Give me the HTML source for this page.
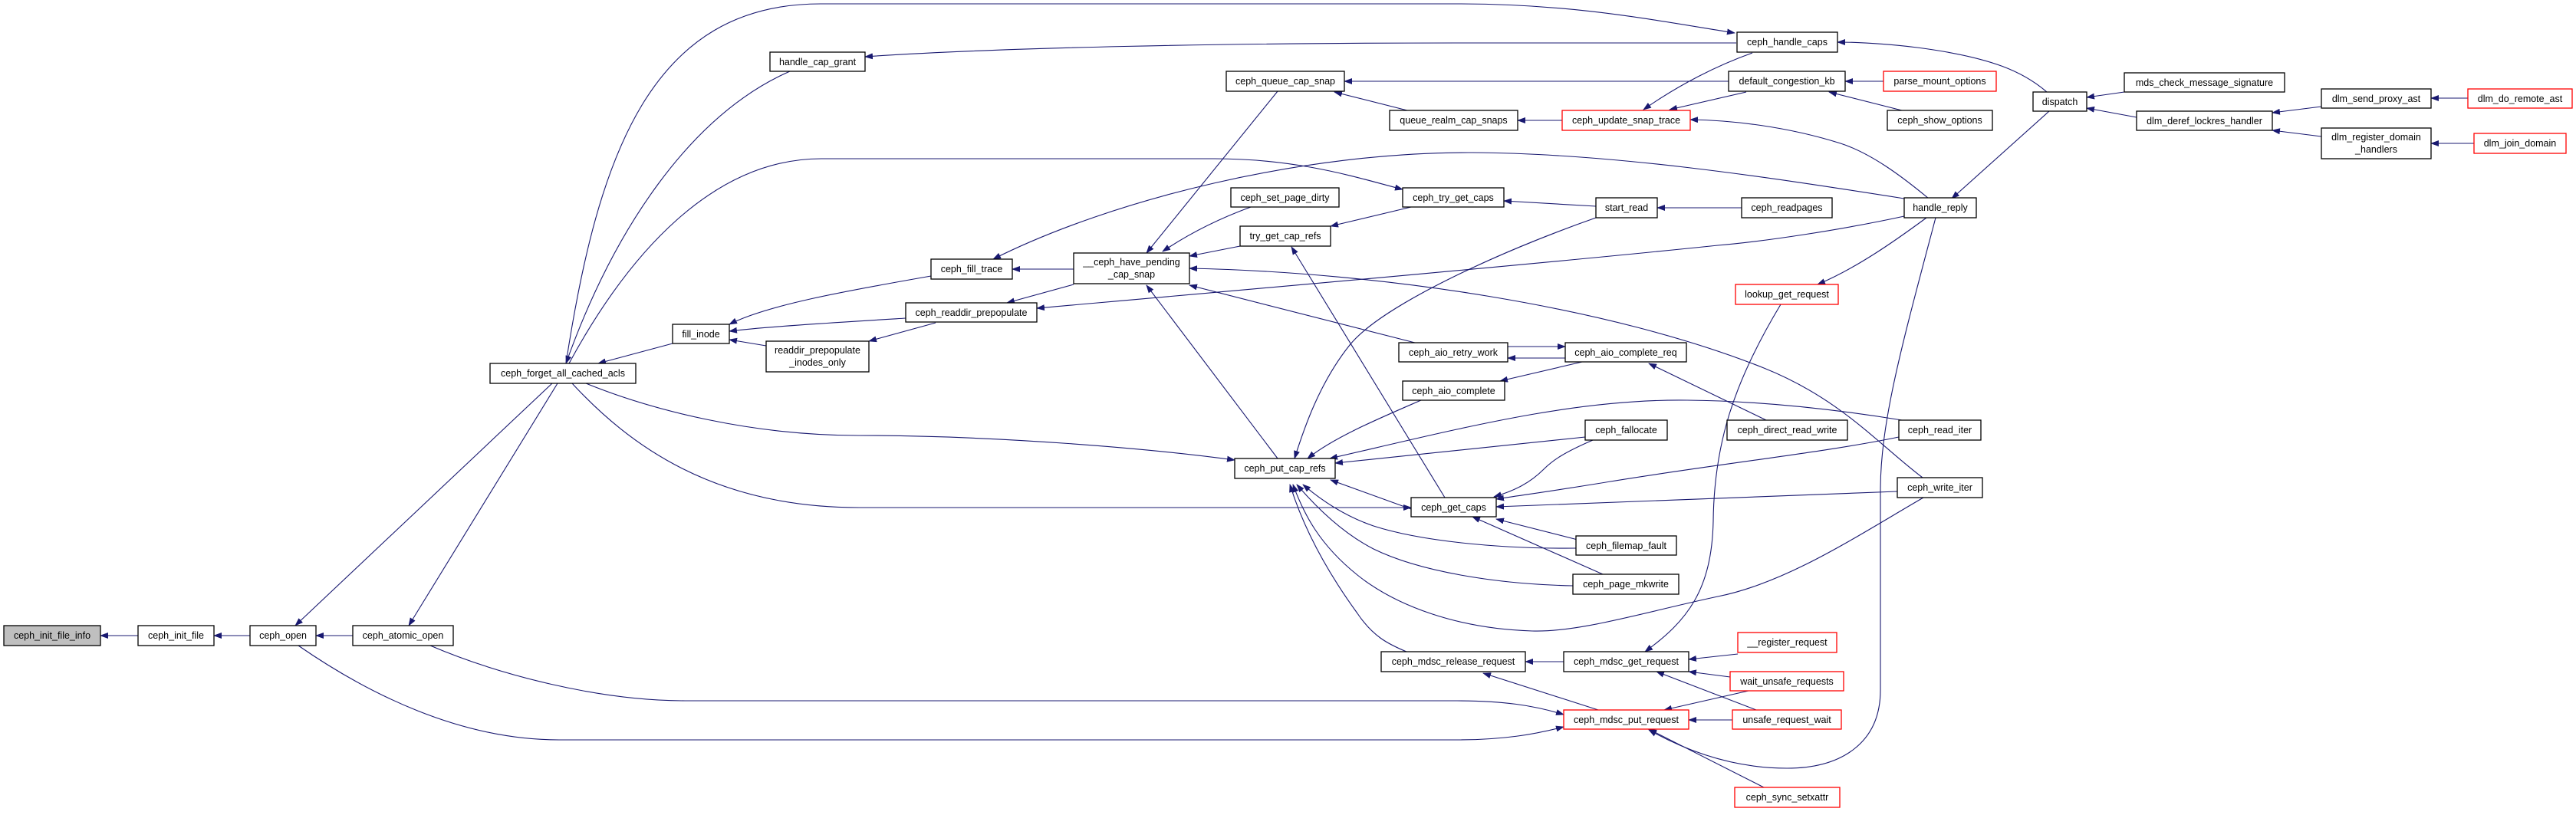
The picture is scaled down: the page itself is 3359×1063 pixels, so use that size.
<!DOCTYPE html>
<html><head><meta charset="utf-8"><style>
html,body{margin:0;padding:0;background:#fff}
svg{display:block}
text{font-family:"Liberation Sans",Arial,sans-serif;font-size:12.5px;fill:#000}
.e{fill:none;stroke:#191970;stroke-width:1.1;marker-end:url(#ah)}
.n{fill:#fff;stroke:#000;stroke-width:1.3}
.r{fill:#fff;stroke:#ff0000;stroke-width:1.3}
</style></head><body>
<svg width="3359" height="1063" viewBox="0 0 3359 1063" xmlns="http://www.w3.org/2000/svg">
<defs><marker id="ah" markerWidth="11" markerHeight="8" refX="10" refY="4" orient="auto" markerUnits="userSpaceOnUse"><path d="M0,0 L11,4 L0,8 z" fill="#191970"/></marker></defs>
<g>
<path class="e" d="M180,829 L131,829"/>
<path class="e" d="M326,829 L279,829"/>
<path class="e" d="M460,829 L412,829"/>
<path class="e" d="M720,500 L385,816"/>
<path class="e" d="M727,500 L533,816"/>
<path class="e" d="M877,448 L780,474"/>
<path class="e" d="M1030,93 C900,150 800,300 738,474"/>
<path class="e" d="M738,474 C780,200 850,5 1070,5 L1900,5 C2050,5 2150,25 2262,43"/>
<path class="e" d="M742,474 C820,330 930,207 1071,207 L1584,207 C1700,207 1780,235 1829,247"/>
<path class="e" d="M1214,360 C1100,380 1000,398 951,423"/>
<path class="e" d="M1181,415 C1100,420 1000,426 951,432"/>
<path class="e" d="M999,451 L951,443"/>
<path class="e" d="M1220,421 L1133,445"/>
<path class="e" d="M1400,351 L1320,351"/>
<path class="e" d="M1400,371 L1313,395"/>
<path class="e" d="M2483,259 C2300,230 2100,200 1920,199 C1700,198 1450,260 1295,338"/>
<path class="e" d="M2483,282 C2400,300 2300,315 2240,320 C2000,345 1600,380 1352,402"/>
<path class="e" d="M1666,119 L1495,330"/>
<path class="e" d="M1835,144 L1740,120"/>
<path class="e" d="M2037,157 L1979,157"/>
<path class="e" d="M2254,106 L1753,106"/>
<path class="e" d="M2264,56 L1900,56 C1600,56 1300,62 1128,74"/>
<path class="e" d="M2285,69 C2240,85 2190,110 2143,143"/>
<path class="e" d="M2277,120 L2177,143"/>
<path class="e" d="M2515,259 C2480,230 2440,200 2400,187 C2330,165 2260,157 2204,156"/>
<path class="e" d="M2456,106 L2406,106"/>
<path class="e" d="M2480,144 L2385,120"/>
<path class="e" d="M2669,120 C2640,95 2600,75 2500,62 C2450,56 2420,55 2396,55"/>
<path class="e" d="M2770,120 L2721,127"/>
<path class="e" d="M2786,153 L2721,141"/>
<path class="e" d="M3027,139 L2963,147"/>
<path class="e" d="M3027,178 L2963,170"/>
<path class="e" d="M3218,128 L3170,128"/>
<path class="e" d="M3226,187 L3170,187"/>
<path class="e" d="M2672,145 L2545,259"/>
<path class="e" d="M2271,271 L2161,271"/>
<path class="e" d="M2081,269 L1961,262"/>
<path class="e" d="M2081,284 C1950,330 1800,400 1760,450 C1720,500 1700,560 1688,598"/>
<path class="e" d="M2512,284 C2470,315 2420,350 2370,371"/>
<path class="e" d="M2524,284 C2480,450 2452,550 2452,640 L2452,900 C2452,970 2400,1002 2330,1002 C2260,1002 2200,980 2150,952"/>
<path class="e" d="M2322,397 C2260,500 2235,580 2234,680 C2232,770 2200,810 2145,850"/>
<path class="e" d="M1617,321 L1551,334"/>
<path class="e" d="M1631,270 C1590,285 1550,305 1516,328"/>
<path class="e" d="M1840,270 L1735,295"/>
<path class="e" d="M1884,649 L1684,322"/>
<path class="e" d="M1666,598 L1495,372"/>
<path class="e" d="M1845,447 L1551,372"/>
<path class="e" d="M2507,623 C2450,580 2400,520 2300,480 C2100,400 1800,355 1551,350"/>
<path class="e" d="M1966,452 L2041,452"/>
<path class="e" d="M2041,467 L1966,467"/>
<path class="e" d="M2063,472 L1956,497"/>
<path class="e" d="M2303,548 L2150,474"/>
<path class="e" d="M1853,522 C1800,545 1740,570 1705,598"/>
<path class="e" d="M2480,548 C2400,535 2300,523 2200,522 C2050,520 1900,560 1734,598"/>
<path class="e" d="M2067,570 L1741,604"/>
<path class="e" d="M1840,664 L1735,626"/>
<path class="e" d="M746,500 C820,580 930,662 1120,662 L1840,662"/>
<path class="e" d="M764,500 C850,535 980,568 1120,568 C1300,568 1500,585 1610,600"/>
<path class="e" d="M2077,574 C2040,590 2025,600 2013,612 C1995,630 1975,640 1948,648"/>
<path class="e" d="M2476,570 C2380,590 2240,605 2100,628 C2040,638 1990,645 1951,651"/>
<path class="e" d="M2474,641 L1951,661"/>
<path class="e" d="M2065,706 L1951,677"/>
<path class="e" d="M2090,749 L1920,674"/>
<path class="e" d="M2055,715 C1950,716 1850,705 1791,686 C1750,672 1720,650 1699,632"/>
<path class="e" d="M2051,764 C1950,762 1850,745 1791,716 C1750,695 1715,660 1691,632"/>
<path class="e" d="M2508,649 C2420,700 2330,760 2240,778 C2150,797 2060,825 1998,823 C1900,820 1820,790 1770,750 C1720,710 1700,670 1686,632"/>
<path class="e" d="M1834,850 C1810,840 1790,830 1770,800 C1730,745 1700,690 1682,632"/>
<path class="e" d="M2039,863 L1989,863"/>
<path class="e" d="M2266,853 L2202,860"/>
<path class="e" d="M2256,883 L2202,876"/>
<path class="e" d="M2290,926 L2160,876"/>
<path class="e" d="M2280,901 L2170,926"/>
<path class="e" d="M2259,939 L2202,939"/>
<path class="e" d="M2300,1027 L2150,951"/>
<path class="e" d="M2084,926 L1934,878"/>
<path class="e" d="M561,842 C650,880 780,914 893,914 L1900,914 C1960,914 2000,920 2039,932"/>
<path class="e" d="M389,842 C480,905 600,965 729,965 L1900,965 C1960,965 2000,958 2039,948"/>
</g>
<g>
<rect x="5" y="816" width="126" height="26" fill="#bfbfbf" stroke="#000" stroke-width="1.3"/><text x="68" y="833" text-anchor="middle">ceph_init_file_info</text>
<rect class="n" x="180" y="816" width="99" height="26"/><text x="229.5" y="833" text-anchor="middle">ceph_init_file</text>
<rect class="n" x="326" y="816" width="86" height="26"/><text x="369" y="833" text-anchor="middle">ceph_open</text>
<rect class="n" x="460" y="816" width="131" height="26"/><text x="525.5" y="833" text-anchor="middle">ceph_atomic_open</text>
<rect class="n" x="639" y="474" width="190" height="26"/><text x="734" y="491" text-anchor="middle">ceph_forget_all_cached_acls</text>
<rect class="n" x="877" y="423" width="74" height="25"/><text x="914" y="440" text-anchor="middle">fill_inode</text>
<rect class="n" x="999" y="445" width="134" height="40"/><text x="1066" y="461" text-anchor="middle">readdir_prepopulate</text><text x="1066" y="477" text-anchor="middle">_inodes_only</text>
<rect class="n" x="1004" y="68" width="124" height="25"/><text x="1066" y="85" text-anchor="middle">handle_cap_grant</text>
<rect class="n" x="1599" y="93" width="154" height="26"/><text x="1676" y="110" text-anchor="middle">ceph_queue_cap_snap</text>
<rect class="n" x="1812" y="144" width="167" height="26"/><text x="1895.5" y="161" text-anchor="middle">queue_realm_cap_snaps</text>
<rect class="r" x="2037" y="144" width="167" height="26"/><text x="2120.5" y="161" text-anchor="middle">ceph_update_snap_trace</text>
<rect class="n" x="1605" y="245" width="141" height="25"/><text x="1675.5" y="262" text-anchor="middle">ceph_set_page_dirty</text>
<rect class="n" x="1829" y="245" width="132" height="25"/><text x="1895" y="262" text-anchor="middle">ceph_try_get_caps</text>
<rect class="n" x="2081" y="258" width="80" height="26"/><text x="2121" y="275" text-anchor="middle">start_read</text>
<rect class="n" x="1617" y="295" width="118" height="26"/><text x="1676" y="312" text-anchor="middle">try_get_cap_refs</text>
<rect class="n" x="1214" y="338" width="106" height="26"/><text x="1267" y="355" text-anchor="middle">ceph_fill_trace</text>
<rect class="n" x="1400" y="330" width="151" height="40"/><text x="1475.5" y="346" text-anchor="middle">__ceph_have_pending</text><text x="1475.5" y="362" text-anchor="middle">_cap_snap</text>
<rect class="n" x="1181" y="395" width="171" height="25"/><text x="1266.5" y="412" text-anchor="middle">ceph_readdir_prepopulate</text>
<rect class="n" x="1824" y="447" width="142" height="25"/><text x="1895" y="464" text-anchor="middle">ceph_aio_retry_work</text>
<rect class="n" x="2041" y="447" width="158" height="25"/><text x="2120" y="464" text-anchor="middle">ceph_aio_complete_req</text>
<rect class="n" x="1829" y="497" width="133" height="25"/><text x="1895.5" y="514" text-anchor="middle">ceph_aio_complete</text>
<rect class="n" x="2067" y="548" width="107" height="26"/><text x="2120.5" y="565" text-anchor="middle">ceph_fallocate</text>
<rect class="n" x="1610" y="598" width="131" height="26"/><text x="1675.5" y="615" text-anchor="middle">ceph_put_cap_refs</text>
<rect class="n" x="1840" y="649" width="111" height="25"/><text x="1895.5" y="666" text-anchor="middle">ceph_get_caps</text>
<rect class="n" x="2055" y="699" width="131" height="25"/><text x="2120.5" y="716" text-anchor="middle">ceph_filemap_fault</text>
<rect class="n" x="2051" y="749" width="138" height="26"/><text x="2120" y="766" text-anchor="middle">ceph_page_mkwrite</text>
<rect class="n" x="1801" y="850" width="188" height="26"/><text x="1895" y="867" text-anchor="middle">ceph_mdsc_release_request</text>
<rect class="n" x="2039" y="850" width="163" height="26"/><text x="2120.5" y="867" text-anchor="middle">ceph_mdsc_get_request</text>
<rect class="r" x="2039" y="926" width="163" height="25"/><text x="2120.5" y="943" text-anchor="middle">ceph_mdsc_put_request</text>
<rect class="n" x="2265" y="42" width="131" height="26"/><text x="2330.5" y="59" text-anchor="middle">ceph_handle_caps</text>
<rect class="n" x="2254" y="93" width="152" height="26"/><text x="2330" y="110" text-anchor="middle">default_congestion_kb</text>
<rect class="r" x="2456" y="93" width="147" height="26"/><text x="2529.5" y="110" text-anchor="middle">parse_mount_options</text>
<rect class="n" x="2461" y="144" width="137" height="26"/><text x="2529.5" y="161" text-anchor="middle">ceph_show_options</text>
<rect class="n" x="2651" y="120" width="70" height="25"/><text x="2686" y="137" text-anchor="middle">dispatch</text>
<rect class="n" x="2770" y="95" width="209" height="25"/><text x="2874.5" y="112" text-anchor="middle">mds_check_message_signature</text>
<rect class="n" x="2786" y="145" width="177" height="25"/><text x="2874.5" y="162" text-anchor="middle">dlm_deref_lockres_handler</text>
<rect class="n" x="3027" y="116" width="143" height="25"/><text x="3098.5" y="133" text-anchor="middle">dlm_send_proxy_ast</text>
<rect class="r" x="3218" y="116" width="136" height="25"/><text x="3286" y="133" text-anchor="middle">dlm_do_remote_ast</text>
<rect class="n" x="3027" y="167" width="143" height="40"/><text x="3098.5" y="183" text-anchor="middle">dlm_register_domain</text><text x="3098.5" y="199" text-anchor="middle">_handlers</text>
<rect class="r" x="3226" y="174" width="120" height="26"/><text x="3286" y="191" text-anchor="middle">dlm_join_domain</text>
<rect class="n" x="2271" y="258" width="118" height="26"/><text x="2330" y="275" text-anchor="middle">ceph_readpages</text>
<rect class="n" x="2483" y="258" width="94" height="26"/><text x="2530" y="275" text-anchor="middle">handle_reply</text>
<rect class="r" x="2263" y="371" width="134" height="26"/><text x="2330" y="388" text-anchor="middle">lookup_get_request</text>
<rect class="n" x="2252" y="548" width="157" height="26"/><text x="2330.5" y="565" text-anchor="middle">ceph_direct_read_write</text>
<rect class="n" x="2476" y="548" width="107" height="26"/><text x="2529.5" y="565" text-anchor="middle">ceph_read_iter</text>
<rect class="n" x="2474" y="623" width="111" height="26"/><text x="2529.5" y="640" text-anchor="middle">ceph_write_iter</text>
<rect class="r" x="2266" y="825" width="129" height="26"/><text x="2330.5" y="842" text-anchor="middle">__register_request</text>
<rect class="r" x="2256" y="876" width="148" height="25"/><text x="2330" y="893" text-anchor="middle">wait_unsafe_requests</text>
<rect class="r" x="2259" y="926" width="142" height="25"/><text x="2330" y="943" text-anchor="middle">unsafe_request_wait</text>
<rect class="r" x="2262" y="1027" width="137" height="26"/><text x="2330.5" y="1044" text-anchor="middle">ceph_sync_setxattr</text>
</g>
</svg>
</body></html>
